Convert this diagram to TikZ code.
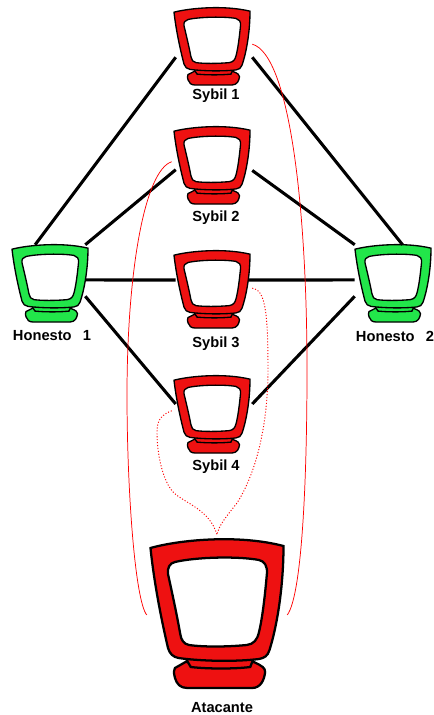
\documentclass[tikz,border=0pt]{standalone}
\usepackage{fontspec}
\setmainfont{Liberation Sans}
\definecolor{rojoPC}{HTML}{EE1111}
\definecolor{verdePC}{HTML}{22E64A}
\tikzset{
    pics/computador/.style={code={
        % base and neck
        \draw[pic actions] (-18,62) -- (-24,65) .. controls (-25,67) and (-24.5,68) .. (-24,70)
            .. controls (-23,73) and (-21,75) .. (-17,75) -- (20,75)
            .. controls (25,75) and (27,71) .. (27.5,67)
            .. controls (27.5,65) and (26,64) .. (21,62) -- cycle;
        \draw[pic actions] (-18,60) -- (-15,64.5) .. controls (-5,65.5) and (10,65.5) .. (19,64.5) -- (21,60) -- cycle;
        % monitor
        \draw[pic actions] (-38,5) .. controls (-22,1) and (12,-2) .. (38,4)
            .. controls (38,22) and (35,42) .. (30,56)
            .. controls (29,59) and (27,60) .. (24,60.5)
            .. controls (10,62) and (-10,61.5) .. (-22,60)
            .. controls (-25,59.5) and (-27,58) .. (-28,55)
            .. controls (-32,40) and (-36,22) .. (-38,5) -- cycle;
        \draw[pic actions, fill=white] (-24,12) .. controls (-12,9.5) and (12,9) .. (24,11)
            .. controls (27,11.5) and (29,14) .. (28.5,18)
            .. controls (27.5,28) and (26,40) .. (24,47)
            .. controls (23,51) and (21,53) .. (17,53.5)
            .. controls (5,54.5) and (-8,54.5) .. (-16,53.5)
            .. controls (-19,53) and (-20.5,51) .. (-21,48)
            .. controls (-23,38) and (-26,26) .. (-28,18)
            .. controls (-28.5,15) and (-27,12.5) .. (-24,12) -- cycle;
    }},
    pcrojo/.style={fill=rojoPC, line width=1pt, yscale=1.04},
    pcverde/.style={fill=verdePC, line width=1pt, yscale=1.04},
    maquina/.style={inner sep=0pt, minimum width=57pt, minimum height=31.5pt},
    honesto/.style={inner sep=0pt, minimum width=52.5pt, minimum height=38.25pt},
    etiqueta/.style={font=\fontsize{11pt}{12pt}\selectfont\bfseries, inner sep=0pt},
    enlace/.style={black, line width=2.3pt},
    ataque/.style={red, line width=0.55pt},
    ataquep/.style={red, line width=0.7pt, dash pattern=on 0.8pt off 1.4pt},
}
\begin{document}
\begin{tikzpicture}[x=0.75pt, y=-0.75pt]
    \useasboundingbox (0,0) rectangle (434,715);

    \pic[pcrojo] at (212,7) {computador};
    \pic[pcrojo] at (212,126) {computador};
    \pic[pcrojo] at (212,250) {computador};
    \pic[pcrojo] at (212,375) {computador};
    \pic[pcverde] at (50,244) {computador};
    \pic[pcverde] at (393,244) {computador};
    \pic[fill=rojoPC, line width=1.7pt, xscale=1.75, yscale=2] at (217,538) {computador};

    \node[maquina] (sybilA) at (214,36) {};
    \node[maquina] (sybilB) at (214,155) {};
    \node[maquina] (sybilC) at (214,280) {};
    \node[maquina] (sybilD) at (214,404) {};
    \node[honesto] (honestoA) at (50,270.5) {};
    \node[honesto] (honestoB) at (390,270.5) {};
    \node[inner sep=0pt, minimum width=105pt, minimum height=120pt] (atacante) at (217,615) {};

    \node[etiqueta] (labelA) at (216,96) {Sybil 1};
    \node[etiqueta] (labelB) at (216,218) {Sybil 2};
    \node[etiqueta] (labelC) at (216,344) {Sybil 3};
    \node[etiqueta] (labelD) at (216,467) {Sybil 4};
    \node[etiqueta] (labelE) at (52,336) {Honesto\hspace{8.4pt}1};
    \node[etiqueta] (labelF) at (395,336) {Honesto\hspace{8.4pt}2};
    \node[etiqueta] (labelG) at (222,708) {Atacante};

    \draw[enlace] (honestoA.120.5) -- (sybilA.south west);
    \draw[enlace] (honestoA.north east) -- (sybilB.201.5);
    \draw[enlace] (honestoA.345) -- (sybilC.west);
    \draw[enlace] (honestoA.south east) -- (sybilD.west);

    \draw[enlace] (honestoB.64.8) -- (sybilA.south east);
    \draw[enlace] (honestoB.north west) -- (sybilB.338.5);
    \draw[enlace] (honestoB.195) -- ([xshift=-3pt]sybilC.east);
    \draw[enlace] (honestoB.south west) -- (sybilD.east);

    \draw[ataque] (sybilA.348) .. controls (290,55) and (307,210) .. (307,370) .. controls (307,480) and (302,595) .. (atacante.east);
    \draw[ataque] ([xshift=-3pt]sybilB.190) .. controls (145,170) and (127,270) .. (127,395) .. controls (127,490) and (135,600) .. (atacante.west);
    \draw[ataquep] (sybilC.348) .. controls (265,290) and (268,310) .. (268,370) .. controls (268,420) and (258,470) .. (237,503) .. controls (226,517) and (219,525) .. (atacante.north);
    \draw[ataquep] ([xshift=-3pt]sybilD.190) .. controls (160,415) and (157,422) .. (157,432) .. controls (157,455) and (163,482) .. (174,493) .. controls (185,503) and (210,510) .. (atacante.north);
\end{tikzpicture}
\end{document}
